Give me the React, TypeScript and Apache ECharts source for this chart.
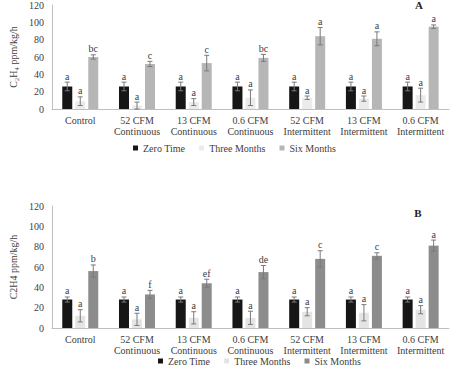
import React, { useEffect, useRef } from "react";
import * as echarts from "echarts";

const categories = [
  "Control",
  "52 CFM\nContinuous",
  "13 CFM\nContinuous",
  "0.6 CFM\nContinuous",
  "52 CFM\nIntermittent",
  "13 CFM\nIntermittent",
  "0.6 CFM\nIntermittent",
];
const seriesNames = ["Zero Time", "Three Months", "Six Months"];
const yTicks = { min: 0, max: 120, interval: 20 };

// Panel A
const aZero = [26, 26, 26, 26, 26, 26, 26];
const aZeroErr = [5, 5, 5, 5, 5, 5, 5];
const aZeroLet = ["a", "a", "a", "a", "a", "a", "a"];
const aThree = [9, 4, 8, 13, 13, 12, 16];
const aThreeErr = [5, 4, 4, 9, 2, 3, 8];
const aThreeLet = ["a", "a", "a", "a", "a", "a", "a"];
const aSix = [60, 52, 53, 59, 84, 81, 95];
const aSixErr = [2.5, 3, 9, 4, 10, 8, 2];
const aSixLet = ["bc", "c", "c", "bc", "a", "a", "a"];

// Panel B
const bZero = [28, 28, 28, 28, 28, 28, 28];
const bZeroErr = [2.5, 2.5, 2.5, 2.5, 2.5, 2.5, 2.5];
const bZeroLet = ["a", "a", "a", "a", "a", "a", "a"];
const bThree = [12, 8.5, 10, 10, 16, 15, 18];
const bThreeErr = [6, 6, 6, 6.5, 4, 8, 4];
const bThreeLet = ["a", "a", "a", "a", "a", "a", "a"];
const bSix = [56, 33, 44, 55, 68, 71, 81];
const bSixErr = [6, 4, 4, 6.5, 8, 3, 5.5];
const bSixLet = ["b", "f", "ef", "de", "c", "c", "a"];

const colorsA = ["#161616", "#ebebeb", "#b6b6b6"];
const colorsB = ["#161616", "#e4e4e4", "#8c8c8c"];

const FONT = "Liberation Serif";
const TXT = "#404040";

export default function App() {
  const ref = useRef<HTMLDivElement>(null);
  useEffect(() => {
    if (!ref.current) return;
    const chart = echarts.init(ref.current, undefined, { renderer: "svg" });

    const errSeries = (
      grid: number,
      k: number,
      vals: number[],
      errs: number[],
      lets: string[]
    ) => ({
      type: "custom",
      xAxisIndex: grid,
      yAxisIndex: grid,
      z: 5,
      silent: true,
      data: vals.map((v, i) => [i, v, errs[i]]),
      renderItem: (params: any, api: any) => {
        const i = api.value(0);
        const v = api.value(1);
        const e = api.value(2);
        const top = api.coord([i, v + e]);
        const bot = api.coord([i, Math.max(v - e, 0)]);
        const x = top[0] + (k - 1) * 13;
        const cap = 2.5;
        const ls = { stroke: "#7a7a7a", lineWidth: 1 };
        return {
          type: "group",
          children: [
            { type: "line", shape: { x1: x, y1: top[1], x2: x, y2: bot[1] }, style: ls },
            { type: "line", shape: { x1: x - cap, y1: top[1], x2: x + cap, y2: top[1] }, style: ls },
            { type: "line", shape: { x1: x - cap, y1: bot[1], x2: x + cap, y2: bot[1] }, style: ls },
            {
              type: "text",
              x: x,
              y: top[1] - 1,
              style: {
                text: lets[params.dataIndex],
                fontFamily: FONT,
                fontSize: 10,
                fill: TXT,
                align: "center",
                verticalAlign: "bottom",
              },
            },
          ],
        };
      },
    });

    const barSeries = (grid: number, name: string, vals: number[], color: string) => ({
      type: "bar",
      name,
      xAxisIndex: grid,
      yAxisIndex: grid,
      data: vals,
      barWidth: 10,
      barGap: "30%",
      itemStyle: { color },
    });

    const xAxis = (grid: number) => ({
      type: "category",
      gridIndex: grid,
      data: categories,
      axisLine: { show: true, lineStyle: { color: "#bfbfbf", width: 1 } },
      axisTick: { show: false },
      axisLabel: {
        interval: 0,
        fontFamily: FONT,
        fontSize: 10,
        lineHeight: 11,
        color: TXT,
        margin: 6,
      },
    });

    const yAxis = (grid: number, name: string, gap: number) => ({
      type: "value",
      gridIndex: grid,
      ...yTicks,
      name,
      nameLocation: "middle",
      nameRotate: 90,
      nameGap: gap,
      nameTextStyle: { fontFamily: FONT, fontSize: 10, color: TXT },
      axisLine: { show: true, lineStyle: { color: "#bfbfbf", width: 1 } },
      axisTick: { show: false },
      splitLine: { show: false },
      axisLabel: { fontFamily: FONT, fontSize: 10, color: TXT, margin: 8 },
    });

    const legendText = { fontFamily: FONT, fontSize: 10, color: TXT };
    const legend = (top: number, left: number, colors: string[]) => ({
      top,
      left,
      padding: 0,
      itemWidth: 5,
      itemHeight: 5,
      itemGap: 14,
      icon: "rect",
      selectedMode: false,
      textStyle: legendText,
      data: seriesNames.map((n, i) => ({
        name: n,
        itemStyle: { color: colors[i] },
        textStyle: legendText,
      })),
    });

    chart.setOption({
      animation: false,
      textStyle: { fontFamily: FONT },
      grid: [
        { left: 36, right: 3, top: 4, bottom: 259 },
        { left: 36, right: 3, top: 206, bottom: 40 },
      ],
      xAxis: [xAxis(0), xAxis(1)],
      yAxis: [yAxis(0, "C₂H₄ ppm/kg/h", 29), yAxis(1, "C2H4 ppm/kg/h", 29)],
      legend: [legend(143, 133, colorsA), legend(356, 158, colorsB)],
      graphic: [
        {
          type: "text",
          x: 419,
          y: 5,
          style: { text: "A", fontFamily: FONT, fontSize: 11, fontWeight: "bold", fill: "#222", align: "center", verticalAlign: "middle" },
        },
        {
          type: "text",
          x: 418,
          y: 213,
          style: { text: "B", fontFamily: FONT, fontSize: 11, fontWeight: "bold", fill: "#222", align: "center", verticalAlign: "middle" },
        },
      ],
      series: [
        barSeries(0, seriesNames[0], aZero, colorsA[0]),
        barSeries(0, seriesNames[1], aThree, colorsA[1]),
        barSeries(0, seriesNames[2], aSix, colorsA[2]),
        barSeries(1, seriesNames[0], bZero, colorsB[0]),
        barSeries(1, seriesNames[1], bThree, colorsB[1]),
        barSeries(1, seriesNames[2], bSix, colorsB[2]),
        errSeries(0, 0, aZero, aZeroErr, aZeroLet),
        errSeries(0, 1, aThree, aThreeErr, aThreeLet),
        errSeries(0, 2, aSix, aSixErr, aSixLet),
        errSeries(1, 0, bZero, bZeroErr, bZeroLet),
        errSeries(1, 1, bThree, bThreeErr, bThreeLet),
        errSeries(1, 2, bSix, bSixErr, bSixLet),
      ],
    });
    return () => chart.dispose();
  }, []);
  return <div ref={ref} style={{ width: 452, height: 368, position: "absolute", left: 0, top: 0 }} />;
}
